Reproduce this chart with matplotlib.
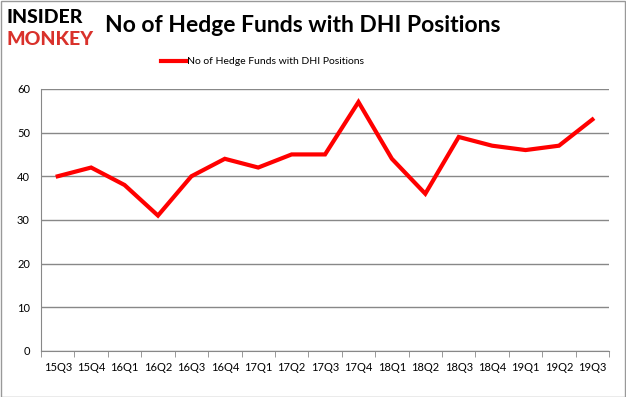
import matplotlib.pyplot as plt
from matplotlib.patches import Rectangle

quarters = ['15Q3', '15Q4', '16Q1', '16Q2', '16Q3', '16Q4', '17Q1', '17Q2', '17Q3',
            '17Q4', '18Q1', '18Q2', '18Q3', '18Q4', '19Q1', '19Q2', '19Q3']
funds = [40, 42, 38, 31, 40, 44, 42, 45, 45, 57, 44, 36, 49, 47, 46, 47, 53]
series_name = 'No of Hedge Funds with DHI Positions'

plt.rcParams['font.family'] = ['Lato', 'DejaVu Sans']

fig = plt.figure(figsize=(6.26, 3.97), dpi=100)
ax = fig.add_axes([0.0655, 0.116, 0.9075, 0.66])

x = range(len(quarters))
ax.plot(x, funds, color='#ff0000', linewidth=3, label=series_name, solid_joinstyle='miter')

ax.set_xlim(-0.5, len(quarters) - 0.5)
ax.set_ylim(0, 60)
ax.set_yticks(range(0, 61, 10))
ax.set_xticks(x)
ax.set_xticklabels(quarters, fontsize=8)
ax.tick_params(axis='y', labelsize=8, length=0, pad=8)
ax.tick_params(axis='x', length=0, pad=8)
# category boundary ticks
ax.set_xticks([i - 0.5 for i in range(len(quarters) + 1)], minor=True)
ax.tick_params(axis='x', which='minor', length=4, color='#888888', direction='out')
ax.grid(axis='y', color='#888888', linewidth=1)
ax.set_axisbelow(True)
for side in ['top', 'right']:
    ax.spines[side].set_visible(False)
ax.spines['left'].set_color('#888888')
ax.spines['bottom'].set_color('#888888')

ax.legend(loc='lower center', bbox_to_anchor=(0.39, 1.05), frameon=False,
          fontsize=7.5, handlelength=2.4, handletextpad=0.1)

fig.text(0.168, 0.935, 'No of Hedge Funds with DHI Positions', fontsize=16.5,
         fontweight='bold', va='center', ha='left')
fig.text(0.01, 0.955, 'INSIDER', fontsize=14, fontweight='black', color='black',
         va='center', ha='left')
fig.text(0.01, 0.9, 'MONKEY', fontsize=14, fontweight='black', color='#d9312b',
         va='center', ha='left')

fig.patches.append(Rectangle((0.001, 0.001), 0.997, 0.997, transform=fig.transFigure,
                             fill=False, edgecolor='#999999', linewidth=1))

fig.savefig('out.png', dpi=100)
